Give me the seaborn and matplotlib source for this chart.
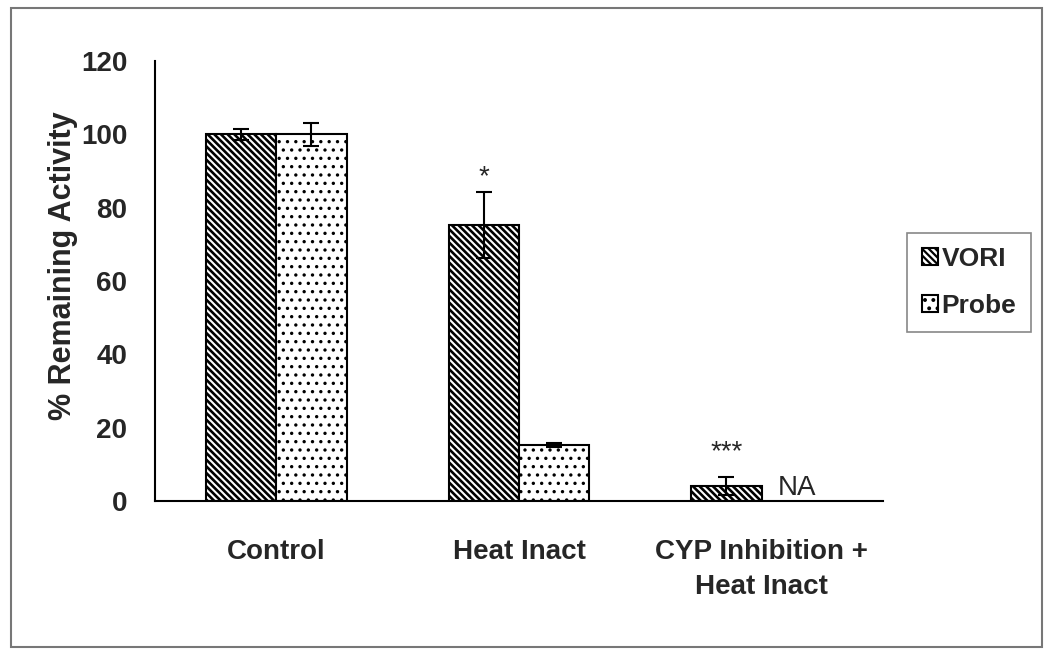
import matplotlib
matplotlib.use("Agg")
import matplotlib.pyplot as plt
import pandas as pd
import seaborn as sns
from matplotlib.patches import Rectangle

# data
conditions = ["Control", "Heat Inact", "CYP Inhibition +\nHeat Inact"]
series = ["VORI", "Probe"]
vori_mean = [100, 75.3, 4.1]
vori_err = [1.5, 9.0, 2.4]
probe_mean = [100, 15.2]          # no probe value for the CYP condition (NA)
probe_err = [3.2, 0.6]
star_labels = ["", "*", "***"]
star_y = [None, 86.5, 11.5]

df = pd.DataFrame({
    "cond": conditions + conditions[:2],
    "series": ["VORI"] * 3 + ["Probe"] * 2,
    "val": vori_mean + probe_mean,
})

sns.set_style("white")
fonts = ["Liberation Sans", "DejaVu Sans"]
plt.rcParams["font.family"] = fonts
plt.rcParams["hatch.linewidth"] = 1.6
plt.rcParams["hatch.color"] = "black"

fig = plt.figure(figsize=(10.5, 6.55), dpi=100)
ax = fig.add_axes([0.1476, 0.2351, 0.6933, 0.6718])

sns.barplot(data=df, x="cond", y="val", hue="series", order=conditions,
            hue_order=series, palette=["white", "white"], edgecolor="black",
            linewidth=1.5, width=0.58, gap=0, errorbar=None, legend=False,
            saturation=1, ax=ax)

hatches = ["\\\\\\\\\\", ".."]
hatch_lw = [1.9, 1.2]
errs = [vori_err, probe_err]
for cont, h, hl, err in zip(ax.containers, hatches, hatch_lw, errs):
    xs = []
    hs = []
    for bar in cont:
        bar.set_hatch(h)
        bar.set_edgecolor("black")
        if hasattr(bar, "set_hatch_linewidth"):
            bar.set_hatch_linewidth(hl)
        xs.append(bar.get_x() + bar.get_width() / 2)
        hs.append(bar.get_height())
    ax.errorbar(xs, hs, yerr=err, fmt="none", ecolor="black", elinewidth=1.5,
                capsize=6, capthick=1.5, zorder=5)

# significance stars and NA label
vbars = list(ax.containers[0])
for bar, lab, yy in zip(vbars, star_labels, star_y):
    if lab:
        ax.text(bar.get_x() + bar.get_width() / 2, yy, lab, ha="center",
                va="baseline", fontsize=20)
last = vbars[2]
ax.text(last.get_x() + last.get_width() * 1.5, 1.6, "NA", ha="center",
        va="baseline", fontsize=20)

ax.set_ylim(0, 120)
ax.set_xlim(-0.5, 2.5)
ax.set_yticks(range(0, 121, 20))
ax.set_xticks(range(3))
ax.set_xticklabels(conditions, fontsize=20, fontweight="bold", linespacing=1.45)
ax.set_xticks([-0.5, 0.5, 1.5, 2.5], minor=True)
ax.tick_params(axis="x", which="major", length=0, pad=27)
ax.tick_params(axis="x", which="minor", length=6, width=1.2, color="black",
               direction="out")
ax.tick_params(axis="y", length=6, width=1.2, color="black", direction="out",
               pad=14, labelsize=20)
for t in ax.get_yticklabels():
    t.set_fontweight("bold")
ax.set_xlabel("")
ax.set_ylabel("% Remaining Activity", fontsize=22, fontweight="bold")
ax.yaxis.set_label_coords(-0.106, 0.535)

for s in ["top", "right"]:
    ax.spines[s].set_visible(False)
for s in ["left", "bottom"]:
    ax.spines[s].set_color("black")
    ax.spines[s].set_linewidth(1.5)

leg = fig.legend(handles=[ax.containers[0][0], ax.containers[1][0]],
                 labels=series, loc="center", bbox_to_anchor=(0.923, 0.569),
                 fancybox=False, framealpha=1, edgecolor="#888888",
                 handlelength=0.6, handleheight=0.6, handletextpad=0.15,
                 labelspacing=0.85, borderpad=0.55, borderaxespad=0,
                 prop={"family": fonts, "weight": "bold", "size": 19})
leg.get_frame().set_linewidth(1.2)

# outer frame around the whole picture
fig.patches.append(Rectangle((11 / 1050, 1 - 647 / 655), 1031 / 1050, 639 / 655,
                             transform=fig.transFigure, fill=False,
                             edgecolor="#777777", linewidth=1.5))

fig.savefig("out.png", dpi=100, facecolor="white")
